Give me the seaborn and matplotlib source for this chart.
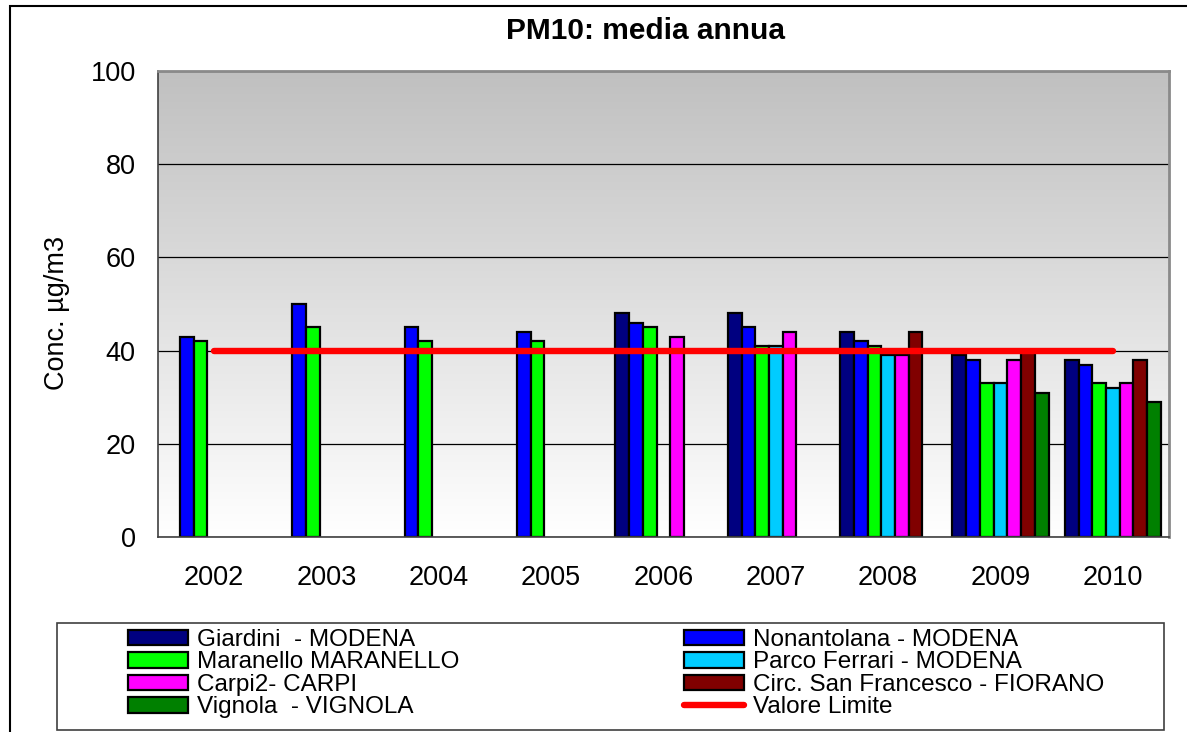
import numpy as np
import pandas as pd
import matplotlib
matplotlib.use("Agg")
import matplotlib.pyplot as plt
import seaborn as sns
from matplotlib.patches import Patch, Rectangle
from matplotlib.lines import Line2D
from matplotlib.colors import LinearSegmentedColormap

nan = np.nan
years = ["2002", "2003", "2004", "2005", "2006", "2007", "2008", "2009", "2010"]
stations = [
    "Giardini  - MODENA",
    "Nonantolana - MODENA",
    "Maranello MARANELLO",
    "Parco Ferrari - MODENA",
    "Carpi2- CARPI",
    "Circ. San Francesco - FIORANO",
    "Vignola  - VIGNOLA",
]
giardini = [nan, nan, nan, nan, 48, 48, 44, 39, 38]
nonantolana = [43, 50, 45, 44, 46, 45, 42, 38, 37]
maranello = [42, 45, 42, 42, 45, 41, 41, 33, 33]
parco_ferrari = [nan, nan, nan, nan, nan, 41, 39, 33, 32]
carpi2 = [nan, nan, nan, nan, 43, 44, 39, 38, 33]
circ_san_francesco = [nan, nan, nan, nan, nan, nan, 44, 40, 38]
vignola = [nan, nan, nan, nan, nan, nan, nan, 31, 29]
valore_limite = [40] * len(years)
limit_label = "Valore Limite"

series = [giardini, nonantolana, maranello, parco_ferrari, carpi2,
          circ_san_francesco, vignola]
colors = ["#000080", "#0000FF", "#00FF00", "#00CCFF", "#FF00FF", "#800000", "#008000"]

rows = []
for st, vals in zip(stations, series):
    for y, v in zip(years, vals):
        rows.append({"Anno": y, "Stazione": st, "Valore": v})
df = pd.DataFrame(rows)

sns.set_theme(style="white")
plt.rcParams["font.family"] = ["Liberation Sans", "DejaVu Sans"]
plt.rcParams["text.color"] = "black"
plt.rcParams["axes.labelcolor"] = "black"
plt.rcParams["xtick.color"] = "black"
plt.rcParams["ytick.color"] = "black"

W, H = 1187, 732
fig = plt.figure(figsize=(W / 100, H / 100), dpi=100)
fig.patch.set_facecolor("white")

def fx(px):
    return px / W

def fy(py):
    return 1 - py / H

ax = fig.add_axes([fx(158), fy(537), fx(1169) - fx(158), fy(71) - fy(537)])

# gradient background
cmap = LinearSegmentedColormap.from_list("g", ["#FFFFFF", "#C0C0C0"])
ax.imshow(np.linspace(1, 0, 256).reshape(-1, 1), cmap=cmap,
          extent=[0, 1, 0, 1], transform=ax.transAxes, aspect="auto",
          zorder=0, vmin=0, vmax=1)

sns.barplot(data=df, x="Anno", y="Valore", hue="Stazione", order=years,
            hue_order=stations, palette=colors, width=0.855, gap=0,
            errorbar=None, edgecolor="black", linewidth=1.6, saturation=1,
            legend=False, ax=ax, zorder=3)

ax.plot(np.arange(len(years)), valore_limite, color="#FF0000", lw=4.6,
        solid_capstyle="round", zorder=5)

ax.set_xlim(-0.5, len(years) - 0.5)
ax.set_ylim(0, 100)
ax.set_yticks([0, 20, 40, 60, 80, 100])
ax.yaxis.grid(True, color="black", lw=0.9)
for gl in ax.get_ygridlines():
    gl.set_zorder(1)
ax.set_xlabel("")
ax.set_ylabel("")
ax.set_xticks(np.arange(len(years)))
ax.set_xticklabels(years)
ax.set_xticks(np.arange(-0.5, len(years), 1), minor=True)
ax.tick_params(axis="x", which="major", length=0, pad=20, labelsize=19.5,
               labelcolor="black")
ax.tick_params(axis="x", which="minor", length=6.5, width=1, direction="out",
               color="#404040")
ax.tick_params(axis="y", length=6, width=1, direction="out", pad=10,
               labelsize=19.5, color="#404040", labelcolor="black")
ax.spines["left"].set_color("#404040")
ax.spines["bottom"].set_color("#404040")
ax.spines["left"].set_linewidth(1.2)
ax.spines["bottom"].set_linewidth(1.2)
ax.spines["top"].set_color("#8A8A8A")
ax.spines["right"].set_color("#8A8A8A")
ax.spines["top"].set_linewidth(2)
ax.spines["right"].set_linewidth(2)
for s in ax.spines.values():
    s.set_zorder(6)

fig.text(fx(646), fy(31), "PM10: media annua", ha="center", va="center",
         fontsize=21.5, fontweight="bold", color="black")
fig.text(fx(57), fy(313), "Conc. µg/m3", ha="center", va="center",
         rotation=90, fontsize=19.5, color="black")

# outer border of chart
fig.add_artist(Rectangle((fx(10), -0.05), 1.2, fy(6) + 0.05, fill=False,
                         edgecolor="black", lw=1.5, transform=fig.transFigure))
# legend frame
fig.add_artist(Rectangle((fx(57), fy(730)), fx(1164) - fx(57), fy(623) - fy(730),
                         fill=False, edgecolor="#404040", lw=1.2,
                         transform=fig.transFigure))

handles = [Patch(facecolor=c, edgecolor="black", lw=1.6) for c in colors]
handles.append(Line2D([0], [0], color="#FF0000", lw=4.6, solid_capstyle="round"))
labels = stations + [limit_label]
left_idx = [0, 2, 4, 6]
right_idx = [1, 3, 5, 7]
common = dict(frameon=False, fontsize=17.5, handlelength=2.47, handleheight=0.62,
              handletextpad=0.37, labelspacing=0.02, borderpad=0,
              borderaxespad=0, loc="upper left", labelcolor="black")
fig.legend([handles[i] for i in left_idx], [labels[i] for i in left_idx],
           bbox_to_anchor=(fx(128), fy(629)), **common)
fig.legend([handles[i] for i in right_idx], [labels[i] for i in right_idx],
           bbox_to_anchor=(fx(684), fy(629)), **common)

fig.savefig("out.png", dpi=100)
